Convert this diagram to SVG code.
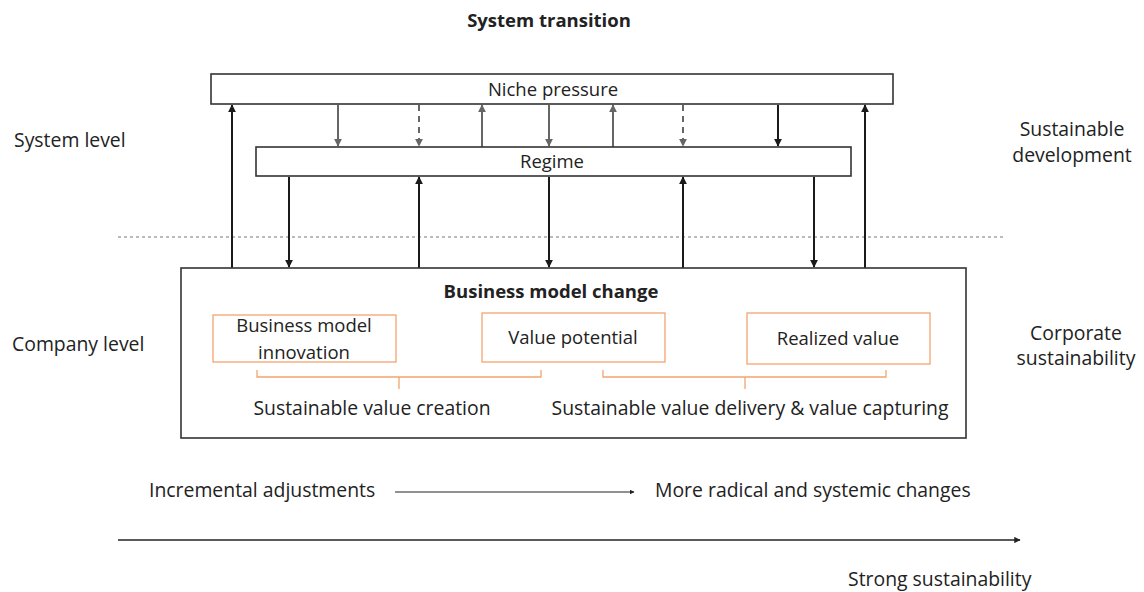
<svg xmlns="http://www.w3.org/2000/svg" width="1144" height="592" viewBox="0 0 1144 592">
  <defs>
    <marker id="head" viewBox="0 0 10 10" refX="9" refY="5" markerWidth="4" markerHeight="4" orient="auto" markerUnits="strokeWidth">
      <path d="M0,0 L10,5 L0,10 z" fill="context-stroke"/>
    </marker>
    <marker id="headSm" viewBox="0 0 10 10" refX="9" refY="5" markerWidth="5" markerHeight="5" orient="auto" markerUnits="strokeWidth">
      <path d="M0,0 L10,5 L0,10 z" fill="#222"/>
    </marker>
    <style>
      text { font-family: "Open Sans", Lato, sans-serif; fill: #222; font-size: 19.4px; }
      .bold { font-weight: bold; font-size: 18.5px; }
      .box-label { font-size: 18.5px; }
      .mid { text-anchor: middle; }
      .box { fill: #fff; stroke: #333; stroke-width: 1.6; }
      .obox { fill: #fff; stroke: #F4A46E; stroke-width: 1.3; }
      .brace { fill: none; stroke: #F4A46E; stroke-width: 1.3; }
      .arr { stroke: #1a1a1a; stroke-width: 2; fill: none; marker-end: url(#head); }
      .arrG { stroke: #666; stroke-width: 2; fill: none; marker-end: url(#head); }
      .dash { stroke-dasharray: 6 5; }
    </style>
  </defs>

  <text class="bold mid" x="549" y="27">System transition</text>

  <!-- side labels -->
  <text x="14" y="147">System level</text>
  <text class="mid" x="1072" y="136">Sustainable</text>
  <text class="mid" x="1072" y="162">development</text>
  <text x="12" y="351">Company level</text>
  <text class="mid" x="1076" y="340">Corporate</text>
  <text class="mid" x="1076" y="365">sustainability</text>

  <!-- level divider -->
  <line x1="118" y1="237" x2="1003" y2="237" stroke="#777" stroke-width="1" stroke-dasharray="3 3"/>

  <g id="connectors">
    <!-- company to niche -->
    <line class="arr" x1="232" y1="268" x2="232" y2="105"/>
    <line class="arr" x1="865" y1="268" x2="865" y2="105"/>
    <!-- niche / regime interplay -->
    <line class="arrG" x1="338" y1="105" x2="338" y2="146"/>
    <line class="arrG dash" x1="419" y1="105" x2="419" y2="146"/>
    <line class="arrG" x1="482" y1="147" x2="482" y2="105"/>
    <line class="arrG" x1="549" y1="105" x2="549" y2="146"/>
    <line class="arrG" x1="613" y1="147" x2="613" y2="105"/>
    <line class="arrG dash" x1="683" y1="105" x2="683" y2="146"/>
    <line class="arr" stroke-width="1.6" x1="778" y1="105" x2="778" y2="146"/>
    <!-- regime / company interplay -->
    <line class="arr" x1="289" y1="177" x2="289" y2="267"/>
    <line class="arr" x1="419" y1="268" x2="419" y2="177"/>
    <line class="arr" x1="549" y1="177" x2="549" y2="267"/>
    <line class="arr" x1="683" y1="268" x2="683" y2="177"/>
    <line class="arr" x1="814" y1="177" x2="814" y2="267"/>
  </g>

  <g id="niche">
    <rect class="box" x="211" y="74" width="682" height="30"/>
    <text class="mid box-label" x="553" y="96">Niche pressure</text>
  </g>

  <g id="regime">
    <rect class="box" x="256" y="147" width="595" height="29"/>
    <text class="mid box-label" x="552" y="168">Regime</text>
  </g>

  <g id="business-model-change">
    <rect class="box" x="181" y="268" width="785" height="170"/>
    <text class="bold mid" x="551" y="298">Business model change</text>
  </g>

  <g id="bm-innovation">
    <rect class="obox" x="213" y="315" width="183" height="47"/>
    <text class="mid box-label" x="304" y="332">Business model</text>
    <text class="mid box-label" x="304" y="359">innovation</text>
  </g>

  <g id="value-potential">
    <rect class="obox" x="482" y="313" width="183" height="49"/>
    <text class="mid box-label" x="573" y="344">Value potential</text>
  </g>

  <g id="realized-value">
    <rect class="obox" x="747" y="313" width="183" height="51"/>
    <text class="mid box-label" x="838" y="345">Realized value</text>
  </g>

  <g id="value-creation">
    <path class="brace" d="M257,370 V377 H541 V370 M399,377 V389"/>
    <text class="mid" x="372" y="415">Sustainable value creation</text>
  </g>

  <g id="value-delivery">
    <path class="brace" d="M603,370 V377 H886 V370 M745,377 V389"/>
    <text class="mid" x="750" y="415">Sustainable value delivery &amp; value capturing</text>
  </g>

  <!-- change scale -->
  <text x="149" y="497">Incremental adjustments</text>
  <line x1="395" y1="492" x2="634" y2="492" stroke="#222" stroke-width="1" marker-end="url(#headSm)"/>
  <text x="655" y="497">More radical and systemic changes</text>

  <line x1="118" y1="540" x2="1020" y2="540" stroke="#222" stroke-width="1.6" marker-end="url(#head)"/>
  <text x="848" y="586">Strong sustainability</text>
</svg>
